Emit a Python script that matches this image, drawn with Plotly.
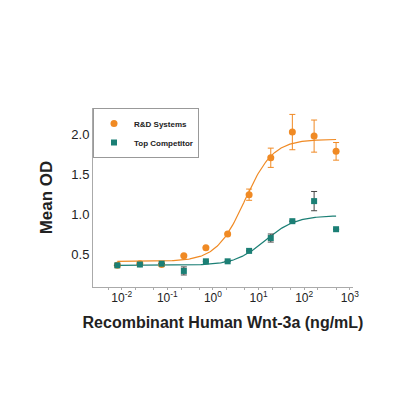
import numpy as np
import plotly.graph_objects as go

conc = [0.008, 0.025, 0.075, 0.23, 0.7, 2.1, 6.2, 18.5, 55, 165, 500]
rd_y = [0.37, 0.39, 0.38, 0.49, 0.59, 0.76, 1.25, 1.71, 2.03, 1.98, 1.79]
rd_err = [0, 0, 0, 0, 0, 0, 0.07, 0.12, 0.22, 0.2, 0.11]
tc_y = [0.37, 0.38, 0.39, 0.30, 0.42, 0.42, 0.55, 0.71, 0.92, 1.17, 0.82]
tc_err = [0, 0, 0, 0.05, 0, 0, 0, 0.05, 0, 0.12, 0]
# 4PL fit parameters: bottom, top, EC50, hill
rd_fit = [0.42, 1.94, 5.0, 1.4]
tc_fit = [0.37, 0.99, 14.0, 1.3]
xticks = [0.01, 0.1, 1, 10, 100, 1000]
xticktext = ["10<sup>-2</sup>", "10<sup>-1</sup>", "10<sup>0</sup>", "10<sup>1</sup>", "10<sup>2</sup>", "10<sup>3</sup>"]

ORANGE = "#F08A24"
TEAL = "#1B7F75"
xs = np.logspace(np.log10(0.008), np.log10(500), 200)
def fpl(p):
    b, t, c, h = p
    return b + (t - b) / (1 + (c / xs) ** h)

fig = go.Figure()
fig.add_trace(go.Scatter(x=xs, y=fpl(rd_fit), mode="lines", line=dict(color=ORANGE, width=1.2), showlegend=False))
fig.add_trace(go.Scatter(x=xs, y=fpl(tc_fit), mode="lines", line=dict(color=TEAL, width=1.2), showlegend=False))
fig.add_trace(go.Scatter(x=conc, y=rd_y, mode="markers", name="<b>R&D Systems</b>",
                         marker=dict(color=ORANGE, size=7, symbol="circle"),
                         error_y=dict(type="data", array=rd_err, color=ORANGE, thickness=1, width=3)))
fig.add_trace(go.Scatter(x=conc, y=tc_y, mode="markers", name="<b>Top Competitor</b>",
                         marker=dict(color=TEAL, size=6, symbol="square"),
                         error_y=dict(type="data", array=tc_err, color="#444", thickness=1, width=3)))

fig.update_layout(
    width=400, height=400, paper_bgcolor="white", plot_bgcolor="white",
    margin=dict(l=85, r=55, t=100, b=121),
    font=dict(family="Liberation Sans, Arial", color="#222"),
    legend=dict(x=0.0, y=1.0, xanchor="left", yanchor="top", bordercolor="#999", borderwidth=1,
                font=dict(size=8, family="Liberation Sans, Arial"), bgcolor="white", tracegroupgap=0,
                itemwidth=30),
    xaxis=dict(type="log", range=[-2.63, 3.07], tickvals=xticks, ticktext=xticktext, showgrid=False,
               showline=True, linecolor="#aaa", ticks="", tickfont=dict(size=12),
               minor=dict(ticks="outside", ticklen=2, tickcolor="#aaa", showgrid=False),
               title=dict(text="<b>Recombinant Human Wnt-3a (ng/mL)</b>", font=dict(size=16), standoff=12)),
    yaxis=dict(range=[0.1, 2.33], tickvals=[0.5, 1.0, 1.5, 2.0], ticktext=["0.5", "1.0", "1.5", "2.0"],
               showgrid=False, showline=True, linecolor="#aaa", ticks="", tickfont=dict(size=13),
               zeroline=False,
               title=dict(text="<b>Mean OD</b>", font=dict(size=17), standoff=14)),
)
fig.write_html("out.html")
